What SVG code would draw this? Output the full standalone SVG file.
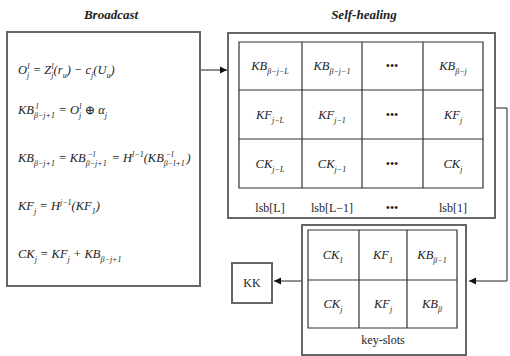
<svg xmlns="http://www.w3.org/2000/svg" width="510" height="356" viewBox="0 0 510 356" font-family="Liberation Serif, DejaVu Serif, serif">
<defs>
<style>
text{font-family:'Liberation Serif','DejaVu Serif',serif;fill:#222}
.t{font-size:13px;font-style:italic;font-weight:bold;text-anchor:middle}
.m{font-size:12.5px;font-style:italic}
.c{font-size:12.5px;font-style:italic;text-anchor:middle}
.s{font-size:8px}
.n{font-size:12px;font-style:normal;text-anchor:middle}
.box{fill:#fff;stroke:#666;stroke-width:2}
.grid{fill:none;stroke:#333;stroke-width:1.2}
.con{fill:none;stroke:#222;stroke-width:1}
</style>
<marker id="ah" markerWidth="8" markerHeight="8" refX="7" refY="4" orient="auto" markerUnits="userSpaceOnUse">
<path d="M0,0.5 L7,4 L0,7.5 Z" fill="#111"/>
</marker>
</defs>
<rect width="510" height="356" fill="#fff"/>

<text class="t" x="111" y="19">Broadcast</text>
<text class="t" x="364" y="19">Self-healing</text>

<g id="connectors">
<path class="con" d="M200,70 H227" marker-end="url(#ah)"/>
<path class="con" d="M495,108 H507 V281 H469" marker-end="url(#ah)"/>
<path class="con" d="M302,281 H274" marker-end="url(#ah)"/>
</g>

<g id="broadcast">
<rect class="box" x="7" y="32" width="193" height="254"/>
<text class="m" x="18" y="74">O<tspan class="s" dy="4">j</tspan><tspan class="s" dx="-2" dy="-9">l</tspan><tspan dy="5"> = Z</tspan><tspan class="s" dy="4">j</tspan><tspan class="s" dx="-2" dy="-9">l</tspan><tspan dy="5">(r</tspan><tspan class="s" dy="4">u</tspan><tspan dy="-4">) − c</tspan><tspan class="s" dy="4">j</tspan><tspan dy="-4">(U</tspan><tspan class="s" dy="4">u</tspan><tspan dy="-4">)</tspan></text>
<text class="m" x="18" y="114">KB<tspan class="s" dy="4">β−j+1</tspan><tspan class="s" dx="-19" dy="-9">l</tspan><tspan dx="17" dy="5"> = O</tspan><tspan class="s" dy="4">j</tspan><tspan class="s" dx="-2" dy="-9">l</tspan><tspan dy="5"> ⊕ α</tspan><tspan class="s" dy="4">j</tspan></text>
<text class="m" x="18" y="162">KB<tspan class="s" dy="4">β−j+1</tspan><tspan dy="-4"> = KB</tspan><tspan class="s" dy="4">β−j+1</tspan><tspan class="s" dx="-19" dy="-9">−l</tspan><tspan dx="13" dy="5"> = H</tspan><tspan class="s" dy="-5">l−1</tspan><tspan dy="5">(KB</tspan><tspan class="s" dy="4">β−l+1</tspan><tspan class="s" dx="-19" dy="-9">−l</tspan><tspan dx="13" dy="5">)</tspan></text>
<text class="m" x="18" y="210">KF<tspan class="s" dy="4">j</tspan><tspan dy="-4"> = H</tspan><tspan class="s" dy="-5">j−1</tspan><tspan dy="5">(KF</tspan><tspan class="s" dy="4">1</tspan><tspan dy="-4">)</tspan></text>
<text class="m" x="18" y="258">CK<tspan class="s" dy="4">j</tspan><tspan dy="-4"> = KF</tspan><tspan class="s" dy="4">j</tspan><tspan dy="-4"> + KB</tspan><tspan class="s" dy="4">β−j+1</tspan></text>
</g>

<g id="self-healing">
<rect class="box" x="228" y="33" width="267" height="185"/>
<path class="grid" d="M239,42 H483 V188 H239 Z M302,42 V188 M362,42 V188 M423,42 V188 M239,90 H483 M239,139 H483"/>
<text class="c" x="270" y="70">KB<tspan class="s" dy="4">β−j−L</tspan></text>
<text class="c" x="332" y="70">KB<tspan class="s" dy="4">β−j−1</tspan></text>
<text class="n" x="392" y="70">•••</text>
<text class="c" x="453" y="70">KB<tspan class="s" dy="4">β−j</tspan></text>
<text class="c" x="270" y="119">KF<tspan class="s" dy="4">j−L</tspan></text>
<text class="c" x="332" y="119">KF<tspan class="s" dy="4">j−1</tspan></text>
<text class="n" x="392" y="119">•••</text>
<text class="c" x="453" y="119">KF<tspan class="s" dy="4">j</tspan></text>
<text class="c" x="270" y="168">CK<tspan class="s" dy="4">j−L</tspan></text>
<text class="c" x="332" y="168">CK<tspan class="s" dy="4">j−1</tspan></text>
<text class="n" x="392" y="168">•••</text>
<text class="c" x="453" y="168">CK<tspan class="s" dy="4">j</tspan></text>
<text class="n" x="270" y="212">lsb[L]</text>
<text class="n" x="332" y="212">lsb[L−1]</text>
<text class="n" x="392" y="212">•••</text>
<text class="n" x="453" y="212">lsb[1]</text>
</g>

<g id="key-slots">
<rect class="box" x="302" y="225" width="164" height="130"/>
<path class="grid" d="M308,230 H457 V328 H308 Z M359,230 V328 M407,230 V328 M308,280 H457"/>
<text class="c" x="333" y="259">CK<tspan class="s" dy="4">1</tspan></text>
<text class="c" x="383" y="259">KF<tspan class="s" dy="4">1</tspan></text>
<text class="c" x="432" y="259">KB<tspan class="s" dy="4">β−1</tspan></text>
<text class="c" x="333" y="308">CK<tspan class="s" dy="4">j</tspan></text>
<text class="c" x="383" y="308">KF<tspan class="s" dy="4">j</tspan></text>
<text class="c" x="432" y="308">KB<tspan class="s" dy="4">β</tspan></text>
<text class="n" x="383" y="344">key-slots</text>
</g>

<g id="kk">
<rect class="box" x="232" y="263" width="40" height="40"/>
<text class="n" x="252" y="287">KK</text>
</g>
</svg>
